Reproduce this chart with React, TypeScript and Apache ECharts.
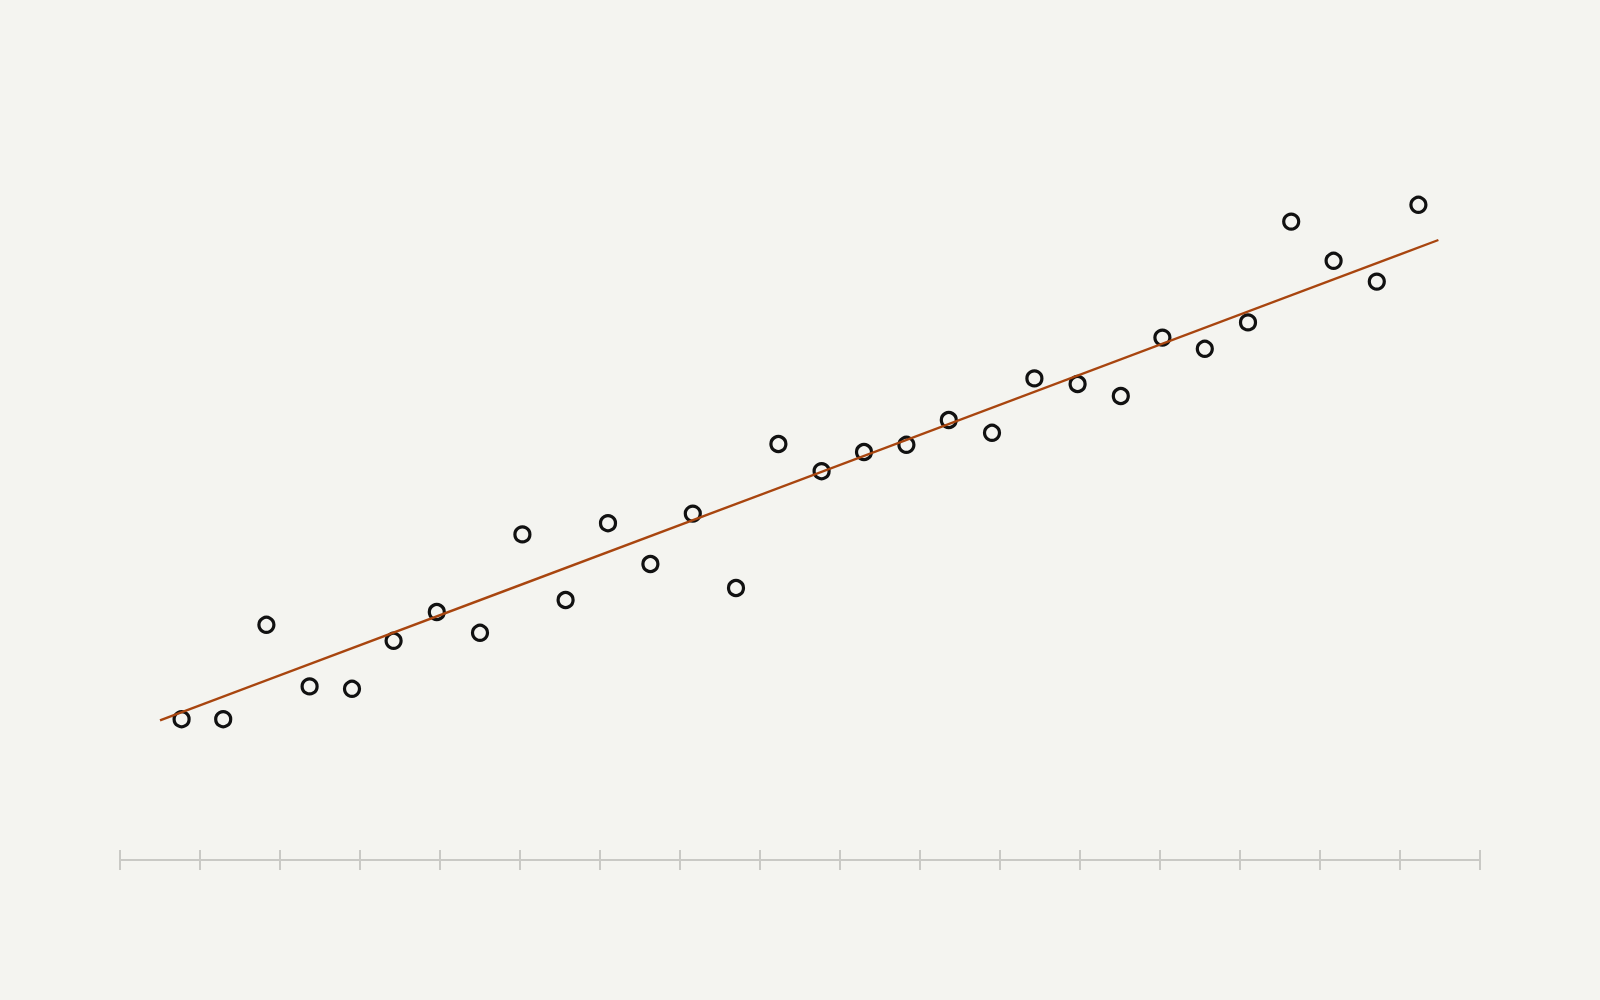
import * as echarts from 'echarts'
import { useEffect, useRef } from 'react'

// 横轴刻度：0..17，每格一个刻度，不显示标签
const xTickMin = 0
const xTickMax = 17

// 散点
const pointX = [
  0.77, 1.29, 1.83, 2.37, 2.9, 3.42, 3.96, 4.5, 5.03, 5.57, 6.1, 6.63, 7.16, 7.7, 8.23,
  8.77, 9.3, 9.83, 10.36, 10.9, 11.43, 11.97, 12.51, 13.03, 13.56, 14.1, 14.64, 15.17, 15.71, 16.23,
]
const pointY = [
  17.6, 17.6, 29.4, 21.7, 21.4, 27.4, 31.0, 28.4, 40.7, 32.5, 42.1, 37.0, 43.3, 34.0, 52.0,
  48.6, 51.0, 51.9, 55.0, 53.4, 60.2, 59.5, 58.0, 65.3, 63.9, 67.2, 79.8, 74.9, 72.3, 81.9,
]

// 拟合线两端
const fitX = [0.5, 16.48]
const fitY = [17.45, 77.5]

const BG = '#f4f4f0'
const AXIS_GRAY = '#c9c9c5'
const FIT_COLOR = '#a8450f'

export default function App() {
  const ref = useRef<HTMLDivElement>(null)

  useEffect(() => {
    document.body.style.margin = '0'
    document.body.style.background = BG
    if (!ref.current) return
    const chart = echarts.init(ref.current, undefined, { renderer: 'svg' })

    const baseX = {
      type: 'value' as const,
      min: xTickMin,
      max: xTickMax,
      interval: 1,
      position: 'bottom' as const,
      axisLabel: { show: false },
      splitLine: { show: false },
    }

    chart.setOption({
      animation: false,
      backgroundColor: BG,
      grid: { left: 120, right: 120, top: 60, bottom: 140 },
      xAxis: [
        {
          ...baseX,
          axisLine: { show: true, lineStyle: { color: AXIS_GRAY, width: 2 } },
          axisTick: { show: true, inside: false, length: 10, lineStyle: { color: AXIS_GRAY, width: 2 } },
        },
        {
          ...baseX,
          axisLine: { show: false },
          axisTick: { show: true, inside: true, length: 10, lineStyle: { color: AXIS_GRAY, width: 2 } },
        },
      ],
      yAxis: {
        type: 'value',
        min: 0,
        max: 100,
        show: false,
      },
      series: [
        {
          type: 'scatter',
          xAxisIndex: 0,
          data: pointX.map((x, i) => [x, pointY[i]]),
          symbol: 'circle',
          symbolSize: 15,
          itemStyle: { color: BG, borderColor: '#111111', borderWidth: 3.2, opacity: 1 },
          z: 2,
        },
        {
          type: 'line',
          xAxisIndex: 0,
          data: fitX.map((x, i) => [x, fitY[i]]),
          showSymbol: false,
          symbol: 'none',
          lineStyle: { color: FIT_COLOR, width: 2.4 },
          z: 3,
        },
      ],
    })

    return () => chart.dispose()
  }, [])

  return <div ref={ref} style={{ width: 1600, height: 1000 }} />
}
